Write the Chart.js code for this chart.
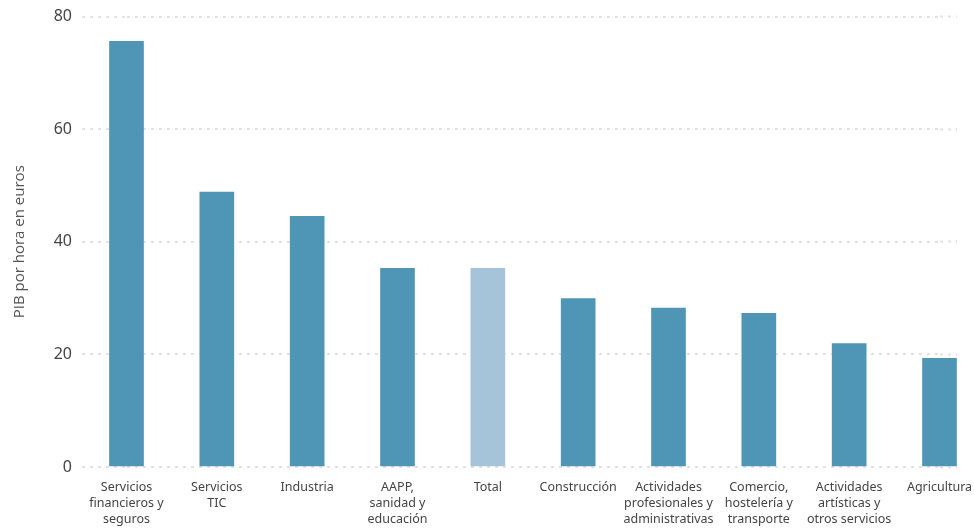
<!DOCTYPE html>
<html lang="es">
<head>
  <meta charset="UTF-8">
  <title>PIB por hora trabajada por sector</title>
  <script src="https://cdn.jsdelivr.net/npm/chart.js"></script>
  <style>
    body {
      margin: 0;
      padding: 0;
      background-color: #ffffff;
    }

    #chart-container {
      width: 974px;
      height: 529px;
    }
  </style>
</head>
<body>
  <div id="chart-container">
    <canvas id="pibChart"></canvas>
  </div>

  <script>
    // Sectores (etiquetas en varias lineas)
    const sectors = [
      ['Servicios', 'financieros y', 'seguros'],
      ['Servicios', 'TIC'],
      'Industria',
      ['AAPP,', 'sanidad y', 'educación'],
      'Total',
      'Construcción',
      ['Actividades', 'profesionales y', 'administrativas'],
      ['Comercio,', 'hostelería y', 'transporte'],
      ['Actividades', 'artísticas y', 'otros servicios'],
      'Agricultura'
    ];

    // PIB por hora en euros
    const pibPorHora = [75.6, 48.8, 44.5, 35.3, 35.3, 29.9, 28.2, 27.3, 21.9, 19.3];

    const yTicks = [0, 20, 40, 60, 80];

    // El total va en un tono mas claro
    const barColors = sectors.map(s => s === 'Total' ? '#a6c4d9' : '#4f95b6');

    const gridColor = '#e2e2e2';
    const gridDash = [3, 5];

    const ctx = document.getElementById('pibChart').getContext('2d');
    const chart = new Chart(ctx, {
      type: 'bar',
      data: {
        labels: sectors,
        datasets: [{
          data: pibPorHora,
          backgroundColor: barColors,
          barThickness: 34,
          borderWidth: 0,
          clip: false
        }]
      },
      options: {
        responsive: true,
        maintainAspectRatio: false,
        animation: false,
        layout: {
          padding: { top: 16.5, right: 17, bottom: 0, left: 0 }
        },
        plugins: {
          legend: { display: false },
          tooltip: { enabled: false }
        },
        scales: {
          x: {
            offset: false,
            afterFit: (scale) => {
              scale.height = 62;
              scale.paddingLeft = 0;
              scale.paddingRight = 0;
            },
            grid: { display: false, drawTicks: false },
            border: { display: false },
            ticks: {
              color: '#444',
              padding: 12,
              maxRotation: 0,
              autoSkip: false,
              font: { family: 'Noto Sans', size: 12.5, lineHeight: 1.28 }
            }
          },
          y: {
            min: 0,
            max: 80,
            afterFit: (scale) => {
              scale.width = 126.5;
              scale.paddingTop = 0;
              scale.paddingBottom = 0;
            },
            afterBuildTicks: (scale) => {
              scale.ticks = yTicks.map(v => ({ value: v }));
            },
            grid: {
              color: gridColor,
              lineWidth: 2,
              drawTicks: true,
              tickLength: 44.5,
              tickColor: gridColor,
              tickWidth: 2,
              tickBorderDash: gridDash
            },
            border: { display: false, dash: gridDash },
            ticks: {
              color: '#444',
              padding: 10,
              font: { family: 'Noto Sans', size: 16 }
            },
            title: {
              display: true,
              text: 'PIB por hora en euros',
              color: '#555',
              padding: { top: 11, bottom: 0 },
              font: { family: 'Open Sans', size: 15 }
            }
          },
          // eje derecho invisible: solo alarga las lineas de la reticula
          yRight: {
            position: 'right',
            min: 0,
            max: 80,
            afterBuildTicks: (scale) => {
              scale.ticks = yTicks.map(v => ({ value: v }));
            },
            afterFit: (scale) => {
              scale.width = 17.5;
              scale.paddingTop = 0;
              scale.paddingBottom = 0;
            },
            grid: {
              drawOnChartArea: false,
              drawTicks: true,
              tickLength: 17.5,
              tickColor: gridColor,
              tickWidth: 2,
              tickBorderDash: gridDash
            },
            border: { display: false },
            ticks: { display: false }
          }
        }
      }
    });
  </script>
</body>
</html>
